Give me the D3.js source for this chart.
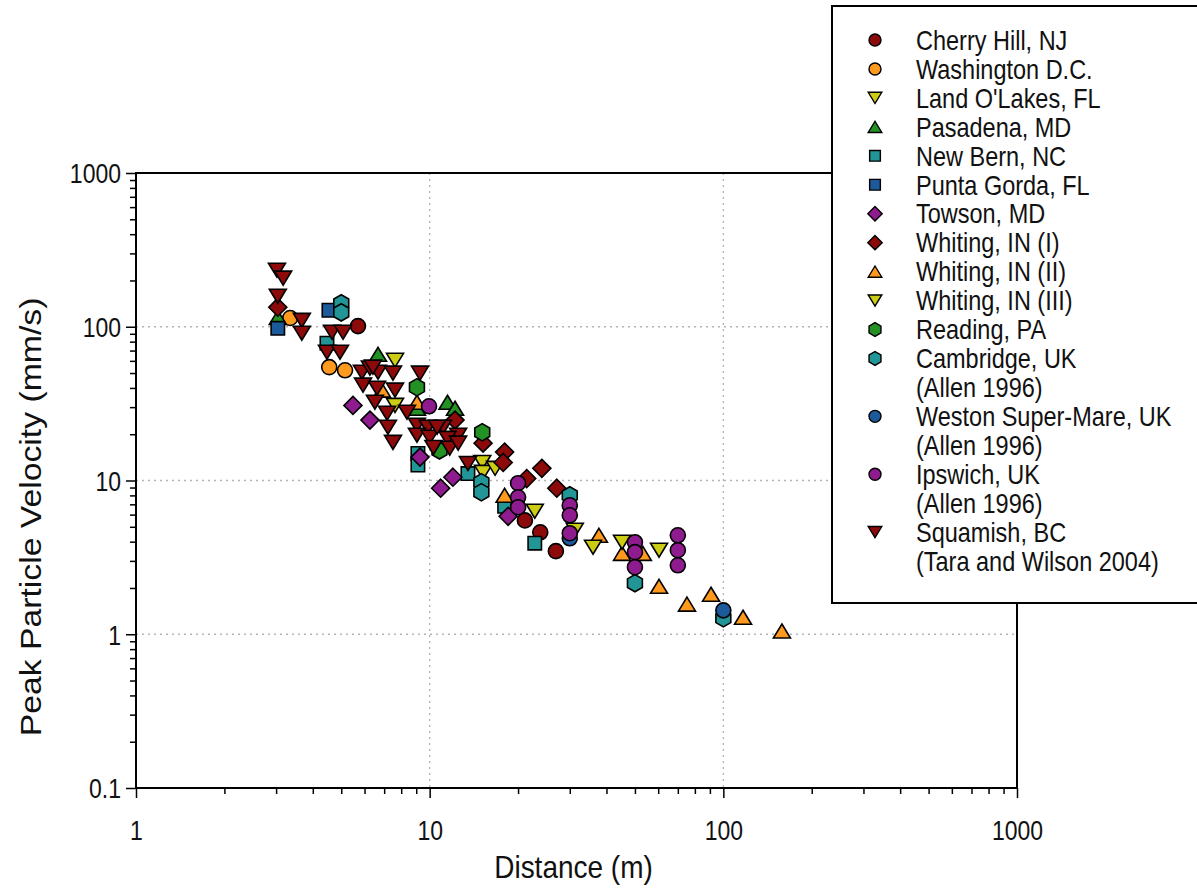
<!DOCTYPE html>
<html>
<head>
<meta charset="utf-8">
<script src="https://cdn.jsdelivr.net/npm/d3@7"></script>
<style>
	body { margin: 0; background: #fff; }
	#chart { width: 1197px; height: 888px; overflow: hidden; }
	text { font-family: 'Liberation Sans', Arial, sans-serif; fill: #111; }
</style>
</head>
<body>
<div id="chart"></div>
<script>
// [distance (m), peak particle velocity (mm/s)]
const cherryHill = [[5.7, 101], [21.1, 5.5], [23.8, 4.6], [26.9, 3.47]];
const washingtonDC = [[3.35, 114], [4.55, 54.6], [5.15, 52.1]];
const landOLakes = [[7.62, 60.5], [7.62, 30.8], [15.1, 13.1], [15.2, 11.3], [16.7, 12.0]];
const pasadena = [[3.04, 115], [6.67, 66.2], [9.05, 29.5], [11.5, 32.3], [12.2, 29.5]];
const newBern = [[4.47, 78.2], [9.12, 15.0], [9.12, 12.6], [13.5, 11.1], [18.0, 6.8], [22.8, 3.91]];
const puntaGorda = [[3.04, 97.7], [4.54, 128]];
const towson = [[5.48, 30.8], [6.26, 24.7], [9.27, 14.2], [10.9, 8.91], [12.0, 10.5], [18.5, 5.85]];
const whiting1 = [[3.04, 134], [12.2, 24.7], [15.2, 17.5], [18.0, 15.3], [17.8, 13.1], [21.4, 10.3], [24.1, 12.0], [27.1, 8.91]];
const whiting2 = [[6.88, 38.7], [9.05, 32.3], [18.0, 8.01], [37.7, 4.4], [45.2, 3.36], [53.2, 3.36], [60.4, 2.05], [75.2, 1.57], [90.8, 1.82], [116.7, 1.29], [158.3, 1.05]];
const whiting3 = [[22.8, 6.31], [31.2, 4.75], [36.0, 3.68], [45.2, 3.97], [60.4, 3.52]];
const reading = [[9.05, 40.4], [10.8, 15.7], [15.1, 20.6]];
const cambridge = [[5.0, 142], [5.0, 124], [15.0, 9.74], [15.0, 8.39], [30.0, 8.01], [50.0, 2.15], [100.0, 1.27]];
const westonSuperMare = [[30.0, 4.21], [100.0, 1.43]];
const ipswich = [[9.95, 30.4], [20.0, 9.6], [20.0, 7.78], [20.0, 6.7], [30.0, 6.9], [30.0, 5.94], [30.0, 4.54], [50.0, 3.97], [50.0, 3.42], [50.0, 2.73], [70.0, 4.4], [70.0, 3.52], [70.0, 2.81]];
const squamish = [
	[3.02, 233], [3.17, 207], [3.04, 158], [3.67, 110], [3.67, 90.7], [4.65, 92], [5.07, 92],
	[4.47, 68.3], [4.95, 68.3], [5.88, 50.6], [6.26, 53.8], [6.67, 50.6], [6.41, 54.6], [7.5, 49.9],
	[5.93, 41.7], [6.62, 39.8], [7.62, 38.7], [6.51, 32.3], [7.16, 27.4], [7.21, 22.2], [7.5, 17.7],
	[8.37, 27.8], [9.27, 49.9], [9.05, 22.9], [9.86, 22.2], [9.05, 19.7], [10.0, 19.1], [11.1, 22.2],
	[12.5, 19.7], [11.5, 18.8], [10.3, 16.4], [11.7, 16.2], [13.5, 12.9], [10.6, 22.2], [12.5, 17.5]
];

const seriesLabels = [
	['Cherry Hill, NJ'],
	['Washington D.C.'],
	["Land O'Lakes, FL"],
	['Pasadena, MD'],
	['New Bern, NC'],
	['Punta Gorda, FL'],
	['Towson, MD'],
	['Whiting, IN (I)'],
	['Whiting, IN (II)'],
	['Whiting, IN (III)'],
	['Reading, PA'],
	['Cambridge, UK', '(Allen 1996)'],
	['Weston Super-Mare, UK', '(Allen 1996)'],
	['Ipswich, UK', '(Allen 1996)'],
	['Squamish, BC', '(Tara and Wilson 2004)'],
];
const seriesValues = [
	cherryHill, washingtonDC, landOLakes, pasadena, newBern, puntaGorda, towson,
	whiting1, whiting2, whiting3, reading, cambridge, westonSuperMare, ipswich, squamish,
];

const xMajorTicks = [1, 10, 100, 1000];
const yMajorTicks = [0.1, 1, 10, 100, 1000];
const xAxisTitle = 'Distance (m)';
const yAxisTitle = 'Peak Particle Velocity (mm/s)';

class ScatterChart {
	constructor(_config) {
		this.config = {
			parentElementSelector: _config.parentElementSelector,
			width: _config.width || 1197,
			height: _config.height || 888,
			plot: _config.plot || { left: 136, right: 1017, top: 173, bottom: 788 },
			stretch: _config.stretch || 1.2, // the original text is drawn taller than wide
		};
		// marker look per series, same order as seriesLabels
		this.styles = [
			{ shape: 'circle', color: '#8c0a0a' },
			{ shape: 'circle', color: '#ff9a1f' },
			{ shape: 'triDown', color: '#cccc14' },
			{ shape: 'triUp', color: '#239123' },
			{ shape: 'square', color: '#229696' },
			{ shape: 'square', color: '#1d5a9c' },
			{ shape: 'diamond', color: '#8e1c8e' },
			{ shape: 'diamond', color: '#8c0a0a' },
			{ shape: 'triUp', color: '#ff9a1f' },
			{ shape: 'triDown', color: '#cccc14' },
			{ shape: 'hexagon', color: '#239123' },
			{ shape: 'hexagon', color: '#229696' },
			{ shape: 'circle', color: '#1d5a9c' },
			{ shape: 'circle', color: '#8e1c8e' },
			{ shape: 'triDown', color: '#8c0a0a' },
		];
		this.initVis();
	}

	markerPath(shape, k) {
		const s = 7.5 * k;
		switch (shape) {
			case 'circle':
				return d3.symbol(d3.symbolCircle, Math.PI * s * s)();
			case 'square': {
				const h = 6.7 * k;
				return `M${-h},${-h}H${h}V${h}H${-h}Z`;
			}
			case 'diamond': {
				const r = 9 * k;
				return `M0,${-r}L${r},0L0,${r}L${-r},0Z`;
			}
			case 'triUp': {
				const w = 8.5 * k, h = 7 * k;
				return `M0,${-h}L${w},${h}L${-w},${h}Z`;
			}
			case 'triDown': {
				const w = 8.5 * k, h = 7 * k;
				return `M${-w},${-h}L${w},${-h}L0,${h}Z`;
			}
			case 'hexagon': {
				const r = 8.6 * k;
				const pts = d3.range(6).map((i) => {
					const a = (Math.PI / 3) * i - Math.PI / 2;
					return [r * Math.cos(a), r * Math.sin(a)];
				});
				return 'M' + pts.map((p) => p.join(',')).join('L') + 'Z';
			}
		}
	}

	initVis() {
		const p = this.config.plot;
		const sy = this.config.stretch;

		this.svg = d3
			.select(this.config.parentElementSelector)
			.append('svg')
			.attr('width', this.config.width)
			.attr('height', this.config.height);

		this.x = d3.scaleLog().domain([1, 1000]).range([p.left, p.right]);
		this.y = d3.scaleLog().domain([0.1, 1000]).range([p.bottom, p.top]);

		// dotted grid on the inner decades
		this.gridG = this.svg.append('g');
		this.gridG
			.selectAll('.vgrid')
			.data(xMajorTicks.slice(1, -1))
			.join('line')
			.attr('x1', (d) => this.x(d))
			.attr('x2', (d) => this.x(d))
			.attr('y1', p.top)
			.attr('y2', p.bottom)
			.attr('stroke', '#b4b4b4')
			.attr('stroke-width', 1.3)
			.attr('stroke-dasharray', '2,4');
		this.gridG
			.selectAll('.hgrid')
			.data(yMajorTicks.slice(1, -1))
			.join('line')
			.attr('y1', (d) => this.y(d))
			.attr('y2', (d) => this.y(d))
			.attr('x1', p.left)
			.attr('x2', p.right)
			.attr('stroke', '#b4b4b4')
			.attr('stroke-width', 1.3)
			.attr('stroke-dasharray', '2,4');

		const fmt = d3.format('~g');
		const xMinor = this.x.ticks().filter((t) => !xMajorTicks.includes(t));
		const yMinor = this.y.ticks().filter((t) => !yMajorTicks.some((m) => Math.abs(m - t) < 1e-9));

		this.xMinorG = this.svg
			.append('g')
			.attr('transform', `translate(0,${p.bottom})`)
			.call(d3.axisBottom(this.x).tickValues(xMinor).tickSize(6).tickFormat(''));
		this.xAxisG = this.svg
			.append('g')
			.attr('transform', `translate(0,${p.bottom})`)
			.call(d3.axisBottom(this.x).tickValues(xMajorTicks).tickSize(10).tickFormat(fmt));
		this.yMinorG = this.svg
			.append('g')
			.attr('transform', `translate(${p.left},0)`)
			.call(d3.axisLeft(this.y).tickValues(yMinor).tickSize(6).tickFormat(''));
		this.yAxisG = this.svg
			.append('g')
			.attr('transform', `translate(${p.left},0)`)
			.call(d3.axisLeft(this.y).tickValues(yMajorTicks).tickSize(10).tickFormat(fmt));

		this.svg.selectAll('.domain').remove();
		this.svg
			.selectAll('.tick line')
			.attr('stroke', '#000')
			.attr('stroke-width', 1.5);
		this.svg
			.selectAll('.tick text')
			.style('font-family', "'Liberation Sans', Arial, sans-serif")
			.style('font-size', '23px')
			.attr('fill', '#111')
			.attr('dy', null)
			.attr('dominant-baseline', 'central');
		this.xAxisG
			.selectAll('.tick text')
			.attr('y', 0)
			.attr('transform', `translate(0,42) scale(1,${sy})`);
		this.yAxisG
			.selectAll('.tick text')
			.attr('x', 0)
			.attr('transform', `translate(-15,0) scale(1,${sy})`);

		this.frame = this.svg
			.append('rect')
			.attr('x', p.left)
			.attr('y', p.top)
			.attr('width', p.right - p.left)
			.attr('height', p.bottom - p.top)
			.attr('fill', 'none')
			.attr('stroke', '#000')
			.attr('stroke-width', 2);

		this.xtitle = this.svg
			.append('text')
			.attr('transform', `translate(${(p.left + p.right) / 2 - 3},867) scale(1,1.15)`)
			.attr('text-anchor', 'middle')
			.attr('dominant-baseline', 'central')
			.style('font-size', '28px')
			.text(xAxisTitle);

		// rotated, so the stretch runs along the reading direction
		this.ytitle = this.svg
			.append('text')
			.attr('transform', `translate(31,517) rotate(-90) scale(${sy * 0.97},1)`)
			.attr('text-anchor', 'middle')
			.attr('dominant-baseline', 'central')
			.style('font-size', '29px')
			.text(yAxisTitle);

		this.markG = this.svg.append('g');
		this.legendG = this.svg.append('g');

		this.updateVis();
	}

	updateVis() {
		const sy = this.config.stretch;
		const series = seriesValues.map((values, i) => ({
			key: seriesLabels[i].join(' '),
			lines: seriesLabels[i],
			style: this.styles[i],
			values: values,
		}));

		this.markG
			.selectAll('g.series')
			.data(series)
			.join('g')
			.attr('class', 'series')
			.each((d, i, nodes) => {
				d3.select(nodes[i])
					.selectAll('path')
					.data(d.values)
					.join('path')
					.attr('transform', (v) => `translate(${this.x(v[0])},${this.y(v[1])})`)
					.attr('d', this.markerPath(d.style.shape, 1))
					.attr('fill', d.style.color)
					.attr('stroke', '#000')
					.attr('stroke-width', 1.6);
			});

		// legend box, partly running off the right edge like the original
		const lx = 832, ly = 6, rowH = 28.95, firstRow = 40;
		this.legendG
			.append('rect')
			.attr('x', lx)
			.attr('y', ly)
			.attr('width', 380)
			.attr('height', 597)
			.attr('fill', '#fff')
			.attr('stroke', '#000')
			.attr('stroke-width', 2);

		let row = 0;
		series.forEach((d) => {
			const cy = firstRow + row * rowH;
			this.legendG
				.append('path')
				.attr('transform', `translate(875,${cy})`)
				.attr('d', this.markerPath(d.style.shape, 0.8))
				.attr('fill', d.style.color)
				.attr('stroke', '#000')
				.attr('stroke-width', 1.4);
			d.lines.forEach((line, j) => {
				this.legendG
					.append('text')
					.attr('transform', `translate(916,${cy + j * rowH}) scale(1,${sy})`)
					.attr('dominant-baseline', 'central')
					.style('font-size', '23.5px')
					.text(line);
			});
			row += d.lines.length;
		});
	}
}

const chart = new ScatterChart({ parentElementSelector: '#chart' });
</script>
</body>
</html>
